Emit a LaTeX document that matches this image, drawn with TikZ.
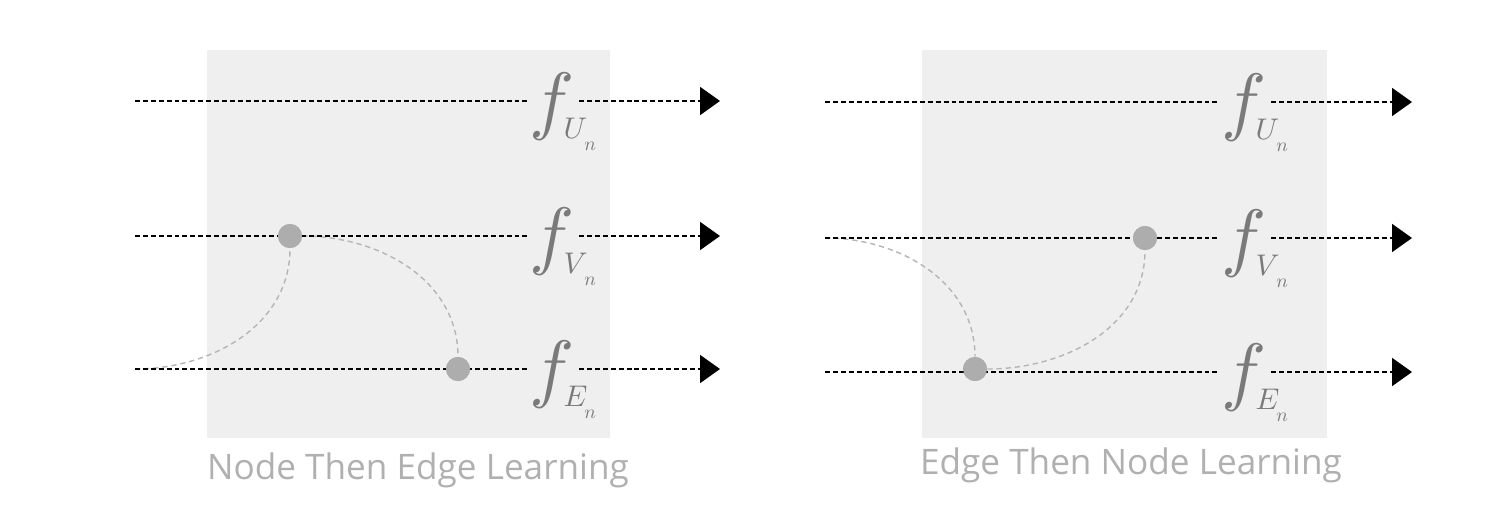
\documentclass[tikz,border=0pt]{standalone}
\usepackage{fontspec}
\setsansfont{Open Sans}
\usetikzlibrary{arrows.meta}

\definecolor{panelgray}{HTML}{EFEFEF}
\definecolor{dotgray}{HTML}{ADADAD}
\definecolor{curvegray}{HTML}{B5B5B5}
\definecolor{labelgray}{HTML}{7A7A7A}
\definecolor{captiongray}{HTML}{B0B0B0}

\begin{document}
\begin{tikzpicture}[x=0.02cm,y=-0.02cm]
\tikzset{wire/.style = {line width=1.1pt, dash pattern=on 2.8pt off 1.7pt}}
\tikzset{arrowwire/.style = {wire, -{Triangle[length=0.4cm,width=0.56cm]}}}
\tikzset{curve/.style = {draw=curvegray, line width=0.8pt, dash pattern=on 3pt off 2.2pt}}
\tikzset{dot/.style = {circle, fill=dotgray, minimum size=0.48cm, inner sep=0}}
\tikzset{flabel/.style = {text=labelgray, inner sep=0, anchor=base west, scale=4.3}}
\tikzset{sublabel/.style = {text=labelgray, inner sep=0, anchor=base west, scale=1.7}}
\tikzset{subsublabel/.style = {text=labelgray, inner sep=0, anchor=base west, scale=1.1}}
\tikzset{caption/.style = {text=captiongray, font=\sffamily\fontsize{20}{20}\selectfont}}
\useasboundingbox (0,0) rectangle (1500,508);

% node then edge
\fill[panelgray] (207,50) rectangle (610,438);
\foreach \y/\s in {101/U, 236/V, 369/E} {
  \coordinate (l\s) at (135,\y);
  \coordinate (lt\s) at (720,\y);
  \node[flabel] (lf\s) at (528,\y+24) {$f$};
  \node[sublabel] (ls\s) at (563,\y+37) {$\s$};
  \node[subsublabel] at (584,\y+49) {$n$};
}
\node[dot] (lnode) at (290,236) {};
\node[dot] (ledge) at (458,369) {};
\draw[curve] (lE) to[out=0, in=-90] (lnode);
\draw[curve] (lnode) to[out=0, in=90] (ledge);
\foreach \s in {U, V, E} {
  \draw[wire] (l\s) -- (l\s -| lf\s.west);
  \draw[arrowwire] ([xshift=0.06cm]l\s -| lf\s.east) -- (lt\s);
}
\node[dot] at (lnode) {};
\node[dot] at (ledge) {};
\node[caption] (lcap) at (418,470) {Node Then Edge Learning};

% edge then node
\fill[panelgray] (922,50) rectangle (1327,438);
\foreach \y/\s in {102/U, 238/V, 372/E} {
  \coordinate (r\s) at (825,\y);
  \coordinate (rt\s) at (1412,\y);
  \node[flabel] (rf\s) at (1220,\y+24) {$f$};
  \node[sublabel] (rs\s) at (1255,\y+37) {$\s$};
  \node[subsublabel] at (1276,\y+49) {$n$};
}
\node[dot] (redge) at (975,369) {};
\node[dot] (rnode) at (1145,238) {};
\draw[curve] (rV) to[out=0, in=90] (redge);
\draw[curve] (redge) to[out=0, in=-90] (rnode);
\foreach \s in {U, V, E} {
  \draw[wire] (r\s) -- (r\s -| rf\s.west);
  \draw[arrowwire] ([xshift=0.06cm]r\s -| rf\s.east) -- (rt\s);
}
\node[dot] at (redge) {};
\node[dot] at (rnode) {};
\node[caption] (rcap) at (1131,465) {Edge Then Node Learning};
\end{tikzpicture}
\end{document}
